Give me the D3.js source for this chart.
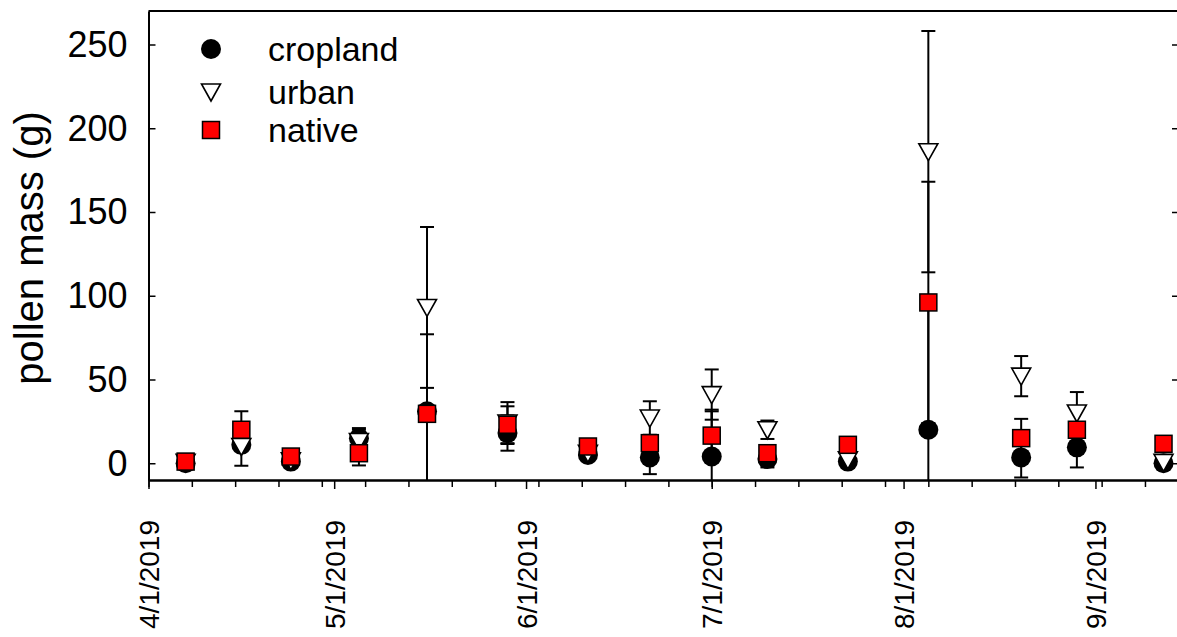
<html><head>
<meta charset="utf-8">
<script src="https://cdnjs.cloudflare.com/ajax/libs/d3/7.8.5/d3.min.js"></script>
<style>
  body { margin: 0; background: #fff; }
  svg { display: block; }
  text { font-family: "Liberation Sans", Arial, sans-serif; fill: #000; }
  .axis path, .axis line { stroke: #000; }
  .axis path { stroke-width: 2; }
  .axis line { stroke-width: 1.5; }
</style>
</head>
<body>
<script>
// sampling dates
var dates = ["2019-04-07", "2019-04-16", "2019-04-24", "2019-05-05", "2019-05-16",
             "2019-05-29", "2019-06-11", "2019-06-21", "2019-07-01", "2019-07-10",
             "2019-07-23", "2019-08-05", "2019-08-20", "2019-08-29", "2019-09-12"];

var cropland    = [0, 11, 1, 15, 31, 18, 5, 3.5, 4, 2.5, 1, 20, 3.5, 9.5, 0];
var croplandErr = [1, 3, 1, 6, 46, 10.5, 2, 10, 27, 5, 1, 76, 12, 12, 1];
var urban       = [0.5, 10, 1.5, 13, 93, 24, 6, 27, 41, 20, 2, 186, 52, 30, 0.5];
var urbanErr    = [0, 11.5, 0, 7, 48, 12.5, 1, 10, 15, 5.5, 0, 72, 12, 12.5, 0];
var native      = [1, 20, 4, 6, 29.5, 23, 10, 12, 16.5, 6, 11, 96, 15, 20, 11.6];
var nativeErr   = [1, 11, 1, 7.3, 2, 11, 2, 2, 15.5, 2, 2, 72, 11.5, 3, 1];

var yTicks = [0, 50, 100, 150, 200, 250];
var seriesNames = ["cropland", "urban", "native"];

var W = 1177, H = 637;
var parse = d3.timeParse("%Y-%m-%d");
var days = dates.map(parse);

var svg = d3.select("body").append("svg").attr("width", W).attr("height", H);

var x = d3.scaleTime()
    .domain([new Date(2019, 3, 1), new Date(2019, 8, 14, 12)])
    .range([148.5, 1179]);
var y = d3.scaleLinear().domain([-10, 270]).range([480, 11]);

svg.append("clipPath").attr("id", "plotclip")
  .append("rect").attr("x", 148.5).attr("y", 11).attr("width", 1179 - 148.5).attr("height", 469);

// top frame line
svg.append("line").attr("x1", 148.5).attr("x2", 1179).attr("y1", 11).attr("y2", 11)
   .attr("stroke", "#000").attr("stroke-width", 2);

// y axis (ticks inward)
var yAxis = svg.append("g").attr("class", "axis").attr("transform", "translate(148.5,0)")
  .call(d3.axisLeft(y).tickValues(yTicks).tickSizeInner(-7).tickSizeOuter(0).tickPadding(21));
yAxis.selectAll("text").style("font-size", "36px").attr("dy", "0.33em");

// right axis, ticks only
svg.append("g").attr("class", "axis").attr("transform", "translate(1179,0)")
  .call(d3.axisLeft(y).tickValues(yTicks).tickSizeInner(7).tickSizeOuter(0).tickFormat(""));

// x axis: weekly minor ticks, monthly major ticks with labels
var weeks = d3.timeMonday.range(new Date(2019, 3, 1), new Date(2019, 8, 15));
svg.append("g").attr("class", "axis").attr("transform", "translate(0,480)")
  .call(d3.axisBottom(x).tickValues(weeks).tickSizeInner(7).tickSizeOuter(0).tickFormat(""));

var months = d3.timeMonth.range(new Date(2019, 3, 1), new Date(2019, 8, 2));
var xAxis = svg.append("g").attr("class", "axis").attr("transform", "translate(0,480)")
  .call(d3.axisBottom(x).tickValues(months).tickSizeInner(9).tickSizeOuter(0)
        .tickFormat(d3.timeFormat("%-m/%-d/%Y")));
xAxis.selectAll("text")
  .style("font-size", "28px")
  .attr("transform", "rotate(-90)")
  .attr("text-anchor", "end")
  .attr("x", -40).attr("y", 0).attr("dy", "0.36em");

// y title
svg.append("text")
  .attr("transform", "translate(43,248) rotate(-90)")
  .attr("text-anchor", "middle")
  .style("font-size", "40px")
  .text("pollen mass (g)");

// error bars
var plot = svg.append("g").attr("clip-path", "url(#plotclip)");
var groups = [
  {vals: cropland, errs: croplandErr},
  {vals: urban, errs: urbanErr},
  {vals: native, errs: nativeErr}
];
var cap = 7;
groups.forEach(function(s) {
  days.forEach(function(d, i) {
    var e = s.errs[i];
    if (!e) return;
    var cx = x(d), top = y(s.vals[i] + e), bot = y(s.vals[i] - e);
    var g = plot.append("g").attr("stroke", "#000").attr("stroke-width", 2);
    g.append("line").attr("x1", cx).attr("x2", cx).attr("y1", top).attr("y2", bot);
    g.append("line").attr("x1", cx - cap).attr("x2", cx + cap).attr("y1", top).attr("y2", top);
    g.append("line").attr("x1", cx - cap).attr("x2", cx + cap).attr("y1", bot).attr("y2", bot);
  });
});

var triPath = "M-9.5,-8L9.5,-8L0,9Z";

// symbols
plot.selectAll(".crop").data(days).enter().append("circle")
  .attr("cx", function(d) { return x(d); })
  .attr("cy", function(d, i) { return y(cropland[i]); })
  .attr("r", 10).attr("fill", "#000");

plot.selectAll(".urb").data(days).enter().append("path")
  .attr("d", triPath)
  .attr("transform", function(d, i) { return "translate(" + x(d) + "," + y(urban[i]) + ")"; })
  .attr("fill", "#fff").attr("stroke", "#000").attr("stroke-width", 1.6);

plot.selectAll(".nat").data(days).enter().append("rect")
  .attr("x", function(d) { return x(d) - 8.5; })
  .attr("y", function(d, i) { return y(native[i]) - 8.5; })
  .attr("width", 17).attr("height", 17)
  .attr("fill", "#ff0000").attr("stroke", "#000").attr("stroke-width", 1.5);

// legend
var leg = svg.append("g");
var legY = [49, 92, 130];
leg.append("circle").attr("cx", 211).attr("cy", legY[0]).attr("r", 10).attr("fill", "#000");
leg.append("path").attr("d", triPath).attr("transform", "translate(211," + legY[1] + ")")
  .attr("fill", "#fff").attr("stroke", "#000").attr("stroke-width", 1.6);
leg.append("rect").attr("x", 211 - 8.5).attr("y", legY[2] - 8.5).attr("width", 17).attr("height", 17)
  .attr("fill", "#ff0000").attr("stroke", "#000").attr("stroke-width", 1.5);
seriesNames.forEach(function(n, i) {
  leg.append("text").attr("x", 268).attr("y", legY[i]).attr("dy", "0.34em")
    .style("font-size", "34px").text(n);
});
</script>
</body></html>
